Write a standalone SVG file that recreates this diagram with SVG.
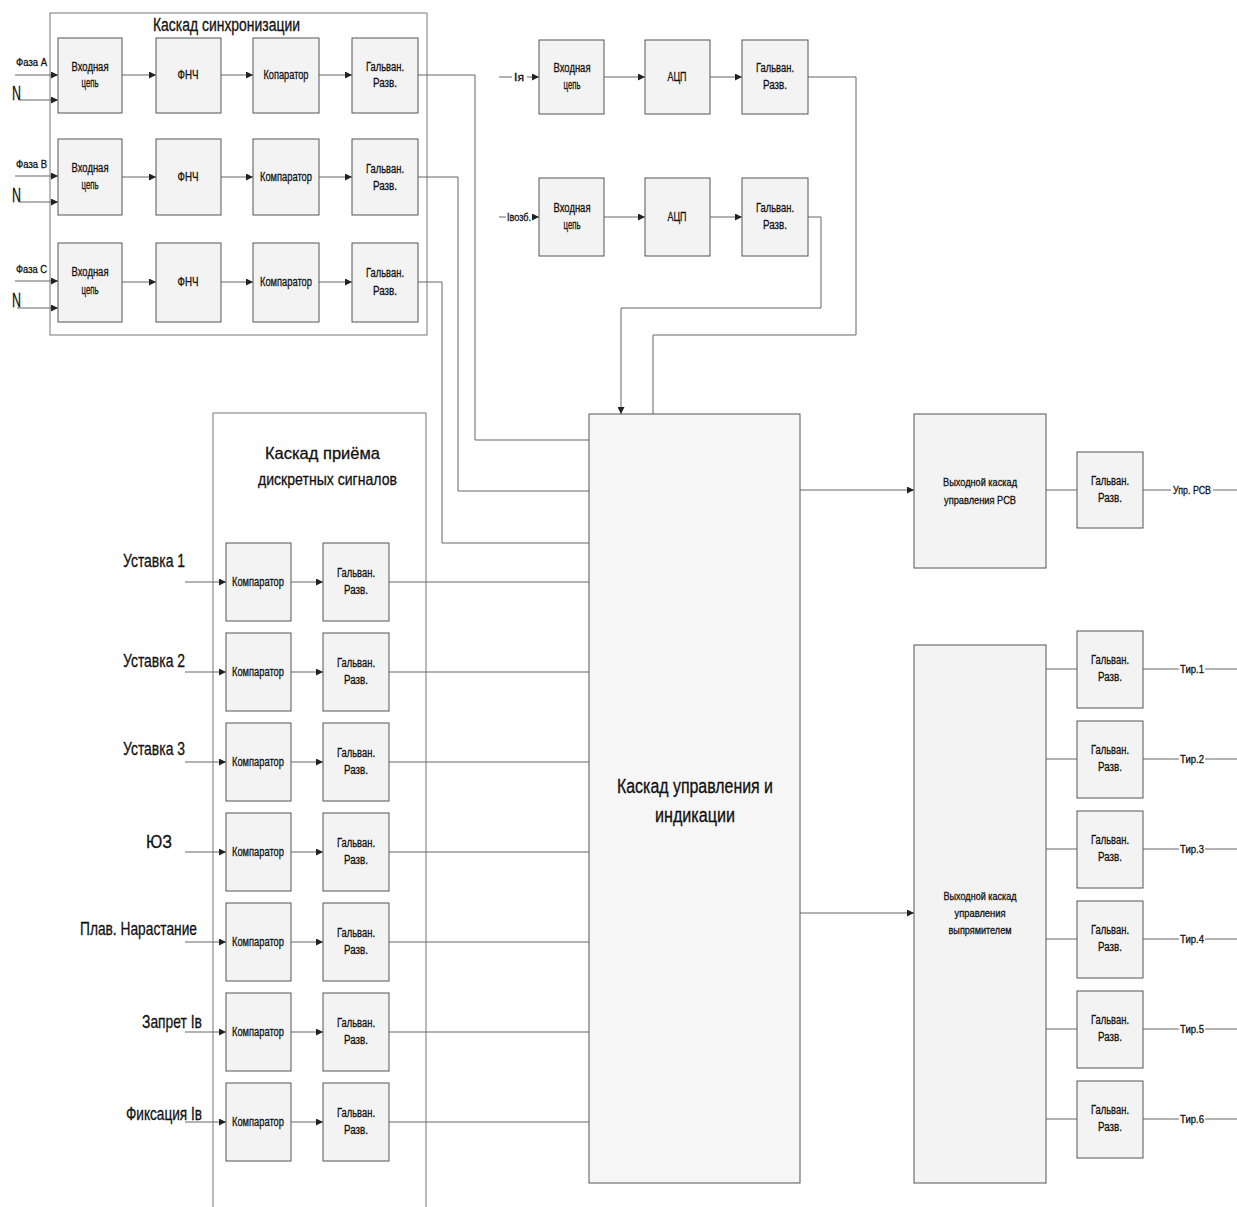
<svg xmlns="http://www.w3.org/2000/svg" width="1237" height="1207" viewBox="0 0 1237 1207">
<style>
.box{fill:#f3f3f3;stroke:#555;stroke-width:1}
.frame{fill:#fff;stroke:#777;stroke-width:1}
.ln{fill:none;stroke:#666;stroke-width:1}
.a{marker-end:url(#ah)}
text{font-family:"Liberation Sans",Arial,sans-serif;fill:#111;stroke:#111;stroke-width:0.3}
.s{font-size:12.5px;text-anchor:middle}
.m{font-size:10.5px}
.L{font-size:19px}
.r{font-size:11px;text-anchor:middle}
</style>
<defs>
<marker id="ah" viewBox="0 0 8 8" refX="8" refY="4" markerWidth="7" markerHeight="7" markerUnits="userSpaceOnUse" orient="auto">
<path d="M0,0 L8,4 L0,8 z" fill="#222"/>
</marker>
</defs>
<rect width="1237" height="1207" fill="#fff"/>

<g id="sync-cascade">
<rect class="frame" x="50" y="13" width="377" height="322"/>
<text x="153" y="31" font-size="18" textLength="147" lengthAdjust="spacingAndGlyphs">Каскад синхронизации</text>
</g>
<g id="discrete-cascade">
<rect class="frame" x="213" y="413" width="213" height="810"/>
<text x="265" y="459" font-size="17" textLength="115" lengthAdjust="spacingAndGlyphs">Каскад приёма</text>
<text x="258" y="485" font-size="17" textLength="139" lengthAdjust="spacingAndGlyphs">дискретных сигналов</text>
</g>

<g id="connectors">
<line class="ln a" x1="15" y1="75" x2="58" y2="75"/>
<line class="ln a" x1="20" y1="100" x2="58" y2="100"/>
<line class="ln a" x1="15" y1="176" x2="58" y2="176"/>
<line class="ln a" x1="20" y1="202" x2="58" y2="202"/>
<line class="ln a" x1="15" y1="281" x2="58" y2="281"/>
<line class="ln a" x1="17" y1="308" x2="58" y2="308"/>
<line class="ln a" x1="122" y1="75" x2="156" y2="75"/>
<line class="ln a" x1="221" y1="75" x2="253" y2="75"/>
<line class="ln a" x1="319" y1="75" x2="352" y2="75"/>
<line class="ln a" x1="122" y1="177" x2="156" y2="177"/>
<line class="ln a" x1="221" y1="177" x2="253" y2="177"/>
<line class="ln a" x1="319" y1="177" x2="352" y2="177"/>
<line class="ln a" x1="122" y1="282" x2="156" y2="282"/>
<line class="ln a" x1="221" y1="282" x2="253" y2="282"/>
<line class="ln a" x1="319" y1="282" x2="352" y2="282"/>
<path class="ln" d="M418,75 H475 V440 H589"/>
<path class="ln" d="M418,177 H458 V491 H589"/>
<path class="ln" d="M418,282 H442 V543 H589"/>
<line class="ln" x1="499" y1="77" x2="512" y2="77"/>
<line class="ln a" x1="527" y1="77" x2="539" y2="77"/>
<line class="ln" x1="499" y1="217" x2="506" y2="217"/>
<line class="ln a" x1="532" y1="217" x2="539" y2="217"/>
<line class="ln a" x1="604" y1="77" x2="645" y2="77"/>
<line class="ln a" x1="710" y1="77" x2="742" y2="77"/>
<line class="ln a" x1="604" y1="217" x2="645" y2="217"/>
<line class="ln a" x1="710" y1="217" x2="742" y2="217"/>
<path class="ln" d="M808,77 H856 V335 H653 V414"/>
<path class="ln a" d="M808,217 H821 V308 H621 V414"/>
<line class="ln a" x1="185" y1="582" x2="226" y2="582"/>
<line class="ln a" x1="291" y1="582" x2="323" y2="582"/>
<line class="ln" x1="389" y1="582" x2="589" y2="582"/>
<line class="ln a" x1="185" y1="672" x2="226" y2="672"/>
<line class="ln a" x1="291" y1="672" x2="323" y2="672"/>
<line class="ln" x1="389" y1="672" x2="589" y2="672"/>
<line class="ln a" x1="185" y1="762" x2="226" y2="762"/>
<line class="ln a" x1="291" y1="762" x2="323" y2="762"/>
<line class="ln" x1="389" y1="762" x2="589" y2="762"/>
<line class="ln a" x1="185" y1="852" x2="226" y2="852"/>
<line class="ln a" x1="291" y1="852" x2="323" y2="852"/>
<line class="ln" x1="389" y1="852" x2="589" y2="852"/>
<line class="ln a" x1="185" y1="942" x2="226" y2="942"/>
<line class="ln a" x1="291" y1="942" x2="323" y2="942"/>
<line class="ln" x1="389" y1="942" x2="589" y2="942"/>
<line class="ln a" x1="185" y1="1032" x2="226" y2="1032"/>
<line class="ln a" x1="291" y1="1032" x2="323" y2="1032"/>
<line class="ln" x1="389" y1="1032" x2="589" y2="1032"/>
<line class="ln a" x1="185" y1="1122" x2="226" y2="1122"/>
<line class="ln a" x1="291" y1="1122" x2="323" y2="1122"/>
<line class="ln" x1="389" y1="1122" x2="589" y2="1122"/>
<line class="ln a" x1="800" y1="490" x2="914" y2="490"/>
<line class="ln a" x1="800" y1="913" x2="914" y2="913"/>
<line class="ln" x1="1046" y1="490" x2="1077" y2="490"/>
<line class="ln" x1="1143" y1="490" x2="1171" y2="490"/>
<line class="ln" x1="1213" y1="490" x2="1237" y2="490"/>
<line class="ln" x1="1046" y1="669" x2="1077" y2="669"/>
<line class="ln" x1="1143" y1="669" x2="1179" y2="669"/>
<line class="ln" x1="1205" y1="669" x2="1237" y2="669"/>
<line class="ln" x1="1046" y1="759" x2="1077" y2="759"/>
<line class="ln" x1="1143" y1="759" x2="1179" y2="759"/>
<line class="ln" x1="1205" y1="759" x2="1237" y2="759"/>
<line class="ln" x1="1046" y1="849" x2="1077" y2="849"/>
<line class="ln" x1="1143" y1="849" x2="1179" y2="849"/>
<line class="ln" x1="1205" y1="849" x2="1237" y2="849"/>
<line class="ln" x1="1046" y1="939" x2="1077" y2="939"/>
<line class="ln" x1="1143" y1="939" x2="1179" y2="939"/>
<line class="ln" x1="1205" y1="939" x2="1237" y2="939"/>
<line class="ln" x1="1046" y1="1029" x2="1077" y2="1029"/>
<line class="ln" x1="1143" y1="1029" x2="1179" y2="1029"/>
<line class="ln" x1="1205" y1="1029" x2="1237" y2="1029"/>
<line class="ln" x1="1046" y1="1119" x2="1077" y2="1119"/>
<line class="ln" x1="1143" y1="1119" x2="1179" y2="1119"/>
<line class="ln" x1="1205" y1="1119" x2="1237" y2="1119"/>
</g>

<g id="sync-labels">
<text class="m" x="16" y="66" textLength="31" lengthAdjust="spacingAndGlyphs">Фаза A</text>
<text x="12" y="100" font-size="21" textLength="9" lengthAdjust="spacingAndGlyphs">N</text>
<text class="m" x="16" y="168" textLength="31" lengthAdjust="spacingAndGlyphs">Фаза B</text>
<text x="12" y="202" font-size="21" textLength="9" lengthAdjust="spacingAndGlyphs">N</text>
<text class="m" x="16" y="273" textLength="31" lengthAdjust="spacingAndGlyphs">Фаза C</text>
<text x="12" y="307" font-size="21" textLength="9" lengthAdjust="spacingAndGlyphs">N</text>
</g>

<g id="sync-A-input"><rect class="box" x="58" y="38" width="64" height="75"/><text class="s" x="90" y="71" textLength="37" lengthAdjust="spacingAndGlyphs">Входная</text><text class="s" x="90" y="87" textLength="17" lengthAdjust="spacingAndGlyphs">цепь</text></g>
<g id="sync-A-lpf"><rect class="box" x="156" y="38" width="65" height="75"/><text class="s" x="188" y="79" textLength="21" lengthAdjust="spacingAndGlyphs">ФНЧ</text></g>
<g id="sync-A-comp"><rect class="box" x="253" y="38" width="66" height="75"/><text class="s" x="286" y="79" textLength="45" lengthAdjust="spacingAndGlyphs">Копаратор</text></g>
<g id="sync-A-gal"><rect class="box" x="352" y="38" width="66" height="75"/><text class="s" x="385" y="71" textLength="38" lengthAdjust="spacingAndGlyphs">Гальван.</text><text class="s" x="385" y="87" textLength="24" lengthAdjust="spacingAndGlyphs">Разв.</text></g>

<g id="sync-B-input"><rect class="box" x="58" y="139" width="64" height="76"/><text class="s" x="90" y="172" textLength="37" lengthAdjust="spacingAndGlyphs">Входная</text><text class="s" x="90" y="189" textLength="17" lengthAdjust="spacingAndGlyphs">цепь</text></g>
<g id="sync-B-lpf"><rect class="box" x="156" y="139" width="65" height="76"/><text class="s" x="188" y="181" textLength="21" lengthAdjust="spacingAndGlyphs">ФНЧ</text></g>
<g id="sync-B-comp"><rect class="box" x="253" y="139" width="66" height="76"/><text class="s" x="286" y="181" textLength="52" lengthAdjust="spacingAndGlyphs">Компаратор</text></g>
<g id="sync-B-gal"><rect class="box" x="352" y="139" width="66" height="76"/><text class="s" x="385" y="173" textLength="38" lengthAdjust="spacingAndGlyphs">Гальван.</text><text class="s" x="385" y="190" textLength="24" lengthAdjust="spacingAndGlyphs">Разв.</text></g>

<g id="sync-C-input"><rect class="box" x="58" y="243" width="64" height="79"/><text class="s" x="90" y="276" textLength="37" lengthAdjust="spacingAndGlyphs">Входная</text><text class="s" x="90" y="294" textLength="17" lengthAdjust="spacingAndGlyphs">цепь</text></g>
<g id="sync-C-lpf"><rect class="box" x="156" y="243" width="65" height="79"/><text class="s" x="188" y="286" textLength="21" lengthAdjust="spacingAndGlyphs">ФНЧ</text></g>
<g id="sync-C-comp"><rect class="box" x="253" y="243" width="66" height="79"/><text class="s" x="286" y="286" textLength="52" lengthAdjust="spacingAndGlyphs">Компаратор</text></g>
<g id="sync-C-gal"><rect class="box" x="352" y="243" width="66" height="79"/><text class="s" x="385" y="277" textLength="38" lengthAdjust="spacingAndGlyphs">Гальван.</text><text class="s" x="385" y="295" textLength="24" lengthAdjust="spacingAndGlyphs">Разв.</text></g>

<g id="adc-labels">
<text class="m" x="514" y="81" textLength="10" lengthAdjust="spacingAndGlyphs">Iя</text>
<text class="m" x="507" y="221" textLength="24" lengthAdjust="spacingAndGlyphs">Iвозб.</text>
</g>
<g id="adc1-input"><rect class="box" x="539" y="40" width="65" height="74"/><text class="s" x="572" y="72" textLength="37" lengthAdjust="spacingAndGlyphs">Входная</text><text class="s" x="572" y="89" textLength="17" lengthAdjust="spacingAndGlyphs">цепь</text></g>
<g id="adc1-adc"><rect class="box" x="645" y="40" width="65" height="74"/><text class="s" x="677" y="81" textLength="19" lengthAdjust="spacingAndGlyphs">АЦП</text></g>
<g id="adc1-gal"><rect class="box" x="742" y="40" width="66" height="74"/><text class="s" x="775" y="72" textLength="38" lengthAdjust="spacingAndGlyphs">Гальван.</text><text class="s" x="775" y="89" textLength="24" lengthAdjust="spacingAndGlyphs">Разв.</text></g>
<g id="adc2-input"><rect class="box" x="539" y="178" width="65" height="78"/><text class="s" x="572" y="212" textLength="37" lengthAdjust="spacingAndGlyphs">Входная</text><text class="s" x="572" y="229" textLength="17" lengthAdjust="spacingAndGlyphs">цепь</text></g>
<g id="adc2-adc"><rect class="box" x="645" y="178" width="65" height="78"/><text class="s" x="677" y="221" textLength="19" lengthAdjust="spacingAndGlyphs">АЦП</text></g>
<g id="adc2-gal"><rect class="box" x="742" y="178" width="66" height="78"/><text class="s" x="775" y="212" textLength="38" lengthAdjust="spacingAndGlyphs">Гальван.</text><text class="s" x="775" y="229" textLength="24" lengthAdjust="spacingAndGlyphs">Разв.</text></g>

<g id="discrete-labels">
<text class="L" x="123" y="567" textLength="62" lengthAdjust="spacingAndGlyphs">Уставка 1</text>
<text class="L" x="123" y="667" textLength="62" lengthAdjust="spacingAndGlyphs">Уставка 2</text>
<text class="L" x="123" y="755" textLength="62" lengthAdjust="spacingAndGlyphs">Уставка 3</text>
<text class="L" x="146" y="848" textLength="26" lengthAdjust="spacingAndGlyphs">ЮЗ</text>
<text class="L" x="80" y="935" textLength="117" lengthAdjust="spacingAndGlyphs">Плав. Нарастание</text>
<text class="L" x="142" y="1028" textLength="60" lengthAdjust="spacingAndGlyphs">Запрет Iв</text>
<text class="L" x="126" y="1120" textLength="76" lengthAdjust="spacingAndGlyphs">Фиксация Iв</text>
</g>

<g id="d1-comp"><rect class="box" x="226" y="543" width="65" height="78"/><text class="s" x="258" y="586" textLength="52" lengthAdjust="spacingAndGlyphs">Компаратор</text></g>
<g id="d1-gal"><rect class="box" x="323" y="543" width="66" height="78"/><text class="s" x="356" y="577" textLength="38" lengthAdjust="spacingAndGlyphs">Гальван.</text><text class="s" x="356" y="594" textLength="24" lengthAdjust="spacingAndGlyphs">Разв.</text></g>
<g id="d2-comp"><rect class="box" x="226" y="633" width="65" height="78"/><text class="s" x="258" y="676" textLength="52" lengthAdjust="spacingAndGlyphs">Компаратор</text></g>
<g id="d2-gal"><rect class="box" x="323" y="633" width="66" height="78"/><text class="s" x="356" y="667" textLength="38" lengthAdjust="spacingAndGlyphs">Гальван.</text><text class="s" x="356" y="684" textLength="24" lengthAdjust="spacingAndGlyphs">Разв.</text></g>
<g id="d3-comp"><rect class="box" x="226" y="723" width="65" height="78"/><text class="s" x="258" y="766" textLength="52" lengthAdjust="spacingAndGlyphs">Компаратор</text></g>
<g id="d3-gal"><rect class="box" x="323" y="723" width="66" height="78"/><text class="s" x="356" y="757" textLength="38" lengthAdjust="spacingAndGlyphs">Гальван.</text><text class="s" x="356" y="774" textLength="24" lengthAdjust="spacingAndGlyphs">Разв.</text></g>
<g id="d4-comp"><rect class="box" x="226" y="813" width="65" height="78"/><text class="s" x="258" y="856" textLength="52" lengthAdjust="spacingAndGlyphs">Компаратор</text></g>
<g id="d4-gal"><rect class="box" x="323" y="813" width="66" height="78"/><text class="s" x="356" y="847" textLength="38" lengthAdjust="spacingAndGlyphs">Гальван.</text><text class="s" x="356" y="864" textLength="24" lengthAdjust="spacingAndGlyphs">Разв.</text></g>
<g id="d5-comp"><rect class="box" x="226" y="903" width="65" height="78"/><text class="s" x="258" y="946" textLength="52" lengthAdjust="spacingAndGlyphs">Компаратор</text></g>
<g id="d5-gal"><rect class="box" x="323" y="903" width="66" height="78"/><text class="s" x="356" y="937" textLength="38" lengthAdjust="spacingAndGlyphs">Гальван.</text><text class="s" x="356" y="954" textLength="24" lengthAdjust="spacingAndGlyphs">Разв.</text></g>
<g id="d6-comp"><rect class="box" x="226" y="993" width="65" height="78"/><text class="s" x="258" y="1036" textLength="52" lengthAdjust="spacingAndGlyphs">Компаратор</text></g>
<g id="d6-gal"><rect class="box" x="323" y="993" width="66" height="78"/><text class="s" x="356" y="1027" textLength="38" lengthAdjust="spacingAndGlyphs">Гальван.</text><text class="s" x="356" y="1044" textLength="24" lengthAdjust="spacingAndGlyphs">Разв.</text></g>
<g id="d7-comp"><rect class="box" x="226" y="1083" width="65" height="78"/><text class="s" x="258" y="1126" textLength="52" lengthAdjust="spacingAndGlyphs">Компаратор</text></g>
<g id="d7-gal"><rect class="box" x="323" y="1083" width="66" height="78"/><text class="s" x="356" y="1117" textLength="38" lengthAdjust="spacingAndGlyphs">Гальван.</text><text class="s" x="356" y="1134" textLength="24" lengthAdjust="spacingAndGlyphs">Разв.</text></g>

<g id="control">
<rect class="box" x="589" y="414" width="211" height="769" style="fill:#f6f6f6"/>
<text x="617" y="793" font-size="20" textLength="156" lengthAdjust="spacingAndGlyphs">Каскад управления и</text>
<text x="655" y="822" font-size="20" textLength="80" lengthAdjust="spacingAndGlyphs">индикации</text>
</g>

<g id="out-rsv">
<rect class="box" x="914" y="414" width="132" height="154"/>
<text class="r" x="980" y="486" textLength="74" lengthAdjust="spacingAndGlyphs">Выходной каскад</text>
<text class="r" x="980" y="504" textLength="72" lengthAdjust="spacingAndGlyphs">управления РСВ</text>
</g>
<g id="rsv-gal"><rect class="box" x="1077" y="452" width="66" height="76"/><text class="s" x="1110" y="485" textLength="38" lengthAdjust="spacingAndGlyphs">Гальван.</text><text class="s" x="1110" y="502" textLength="24" lengthAdjust="spacingAndGlyphs">Разв.</text></g>
<text class="m" x="1173" y="494" textLength="38" lengthAdjust="spacingAndGlyphs">Упр. РСВ</text>

<g id="out-rect">
<rect class="box" x="914" y="645" width="132" height="538"/>
<text class="r" x="980" y="900" textLength="73" lengthAdjust="spacingAndGlyphs">Выходной каскад</text>
<text class="r" x="980" y="917" textLength="51" lengthAdjust="spacingAndGlyphs">управления</text>
<text class="r" x="980" y="934" textLength="63" lengthAdjust="spacingAndGlyphs">выпрямителем</text>
</g>

<g id="t1-gal"><rect class="box" x="1077" y="631" width="66" height="77"/><text class="s" x="1110" y="664" textLength="38" lengthAdjust="spacingAndGlyphs">Гальван.</text><text class="s" x="1110" y="681" textLength="24" lengthAdjust="spacingAndGlyphs">Разв.</text></g>
<g id="t2-gal"><rect class="box" x="1077" y="721" width="66" height="77"/><text class="s" x="1110" y="754" textLength="38" lengthAdjust="spacingAndGlyphs">Гальван.</text><text class="s" x="1110" y="771" textLength="24" lengthAdjust="spacingAndGlyphs">Разв.</text></g>
<g id="t3-gal"><rect class="box" x="1077" y="811" width="66" height="77"/><text class="s" x="1110" y="844" textLength="38" lengthAdjust="spacingAndGlyphs">Гальван.</text><text class="s" x="1110" y="861" textLength="24" lengthAdjust="spacingAndGlyphs">Разв.</text></g>
<g id="t4-gal"><rect class="box" x="1077" y="901" width="66" height="77"/><text class="s" x="1110" y="934" textLength="38" lengthAdjust="spacingAndGlyphs">Гальван.</text><text class="s" x="1110" y="951" textLength="24" lengthAdjust="spacingAndGlyphs">Разв.</text></g>
<g id="t5-gal"><rect class="box" x="1077" y="991" width="66" height="77"/><text class="s" x="1110" y="1024" textLength="38" lengthAdjust="spacingAndGlyphs">Гальван.</text><text class="s" x="1110" y="1041" textLength="24" lengthAdjust="spacingAndGlyphs">Разв.</text></g>
<g id="t6-gal"><rect class="box" x="1077" y="1081" width="66" height="77"/><text class="s" x="1110" y="1114" textLength="38" lengthAdjust="spacingAndGlyphs">Гальван.</text><text class="s" x="1110" y="1131" textLength="24" lengthAdjust="spacingAndGlyphs">Разв.</text></g>

<g id="tir-labels">
<text class="m" x="1180" y="673" textLength="24" lengthAdjust="spacingAndGlyphs">Тир.1</text>
<text class="m" x="1180" y="763" textLength="24" lengthAdjust="spacingAndGlyphs">Тир.2</text>
<text class="m" x="1180" y="853" textLength="24" lengthAdjust="spacingAndGlyphs">Тир.3</text>
<text class="m" x="1180" y="943" textLength="24" lengthAdjust="spacingAndGlyphs">Тир.4</text>
<text class="m" x="1180" y="1033" textLength="24" lengthAdjust="spacingAndGlyphs">Тир.5</text>
<text class="m" x="1180" y="1123" textLength="24" lengthAdjust="spacingAndGlyphs">Тир.6</text>
</g>
</svg>
